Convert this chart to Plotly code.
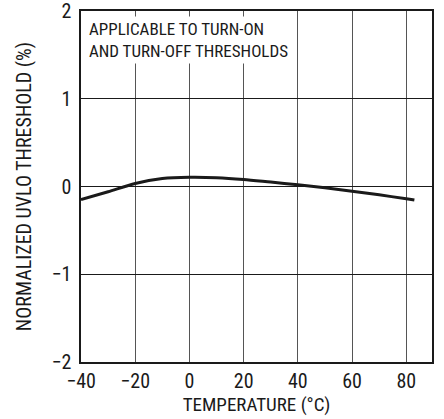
import plotly.graph_objects as go

temperature = [-40, -30, -20, -10, 0, 10, 20, 30, 40, 50, 60, 70, 80, 83]
threshold = [-0.15, -0.06, 0.035, 0.09, 0.105, 0.1, 0.08, 0.05, 0.02, -0.015, -0.055, -0.095, -0.14, -0.155]
x_ticks = [-40, -20, 0, 20, 40, 60, 80]
y_ticks = [-2, -1, 0, 1, 2]
x_tick_text = ["\u221240", "\u221220", "0", "20", "40", "60", "80"]
y_tick_text = ["\u22122", "\u22121", "0", "1", "2"]

FONT = "Liberation Sans Narrow, Roboto Condensed, Arial Narrow, Liberation Sans, sans-serif"

fig = go.Figure()
fig.add_trace(go.Scatter(x=temperature, y=threshold, mode="lines",
                         line=dict(color="#1a1a1a", width=3, shape="spline", smoothing=0.8),
                         showlegend=False, hoverinfo="skip"))

fig.add_annotation(xref="paper", yref="paper", x=0.0, y=0.985, xanchor="left", yanchor="top",
                   text="APPLICABLE TO TURN-ON<br>AND TURN-OFF THRESHOLDS", align="left",
                   showarrow=False, bgcolor="white", borderpad=2, xshift=5,
                   font=dict(family=FONT, size=17, color="#1a1a1a"))

fig.update_layout(
    width=444, height=419,
    margin=dict(l=81, r=12, t=11, b=57),
    paper_bgcolor="white", plot_bgcolor="white",
    font=dict(family=FONT, size=20, color="#1a1a1a"),
    xaxis=dict(range=[-40, 89.5], tickvals=x_ticks, ticktext=x_tick_text,
               showgrid=True, gridcolor="#555555", gridwidth=1, zeroline=False,
               showline=True, linecolor="#1a1a1a", linewidth=1.5, mirror=True,
               ticks="", ticklen=0, automargin=False, ticklabeloverflow="allow",
               title=dict(text="TEMPERATURE (\u00b0C)", font=dict(size=19), standoff=5)),
    yaxis=dict(range=[-2, 2], tickvals=y_ticks, ticktext=y_tick_text,
               showgrid=True, gridcolor="#1a1a1a", gridwidth=1, zeroline=False,
               showline=True, linecolor="#1a1a1a", linewidth=1.5, mirror=True,
               ticks="", ticklen=0, automargin=False, ticklabeloverflow="allow",
               ticklabelstandoff=4,
               title=dict(text="NORMALIZED UVLO THRESHOLD (%)", font=dict(size=20), standoff=14)),
)

fig.write_html("out.html", config={"displayModeBar": False},
               post_script="document.body.style.margin='0';document.body.style.padding='0';")
